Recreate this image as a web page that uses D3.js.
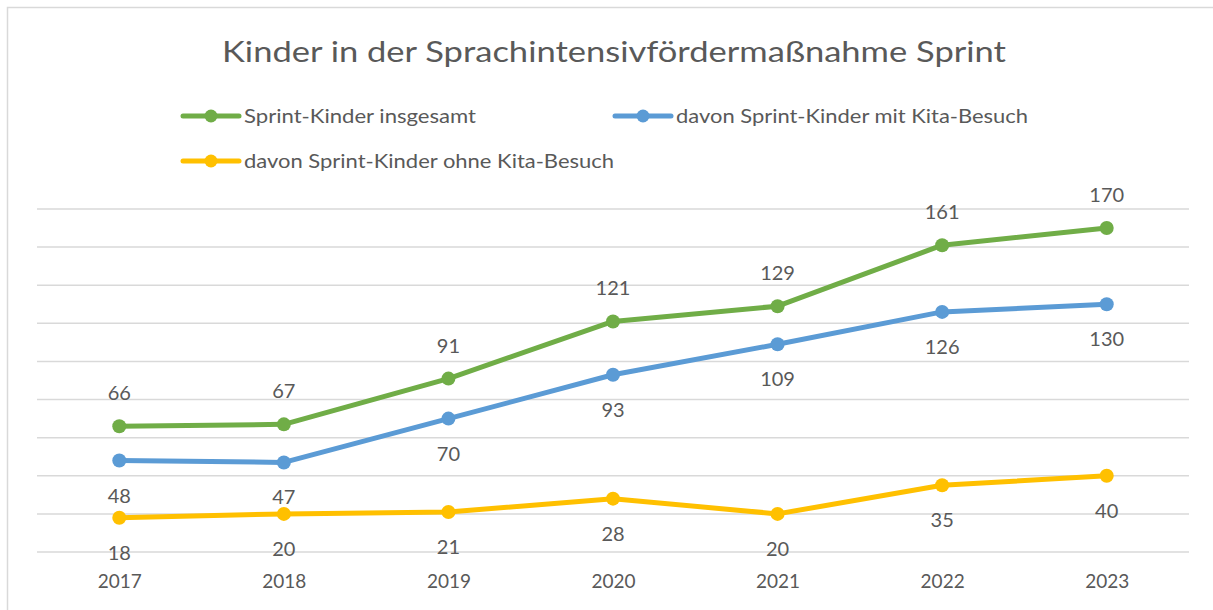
<!DOCTYPE html>
<html>
<head>
<meta charset="utf-8">
<script src="https://cdn.jsdelivr.net/npm/d3@7"></script>
<style>
  body { margin: 0; background: #fff; }
  text { font-family: Lato, "Open Sans", sans-serif; fill: #595959; }
</style>
</head>
<body>
<div id="chart"></div>
<script>
// data
const years = ["2017", "2018", "2019", "2020", "2021", "2022", "2023"];
const gesamt = [66, 67, 91, 121, 129, 161, 170];
const mitKita = [48, 47, 70, 93, 109, 126, 130];
const ohneKita = [18, 20, 21, 28, 20, 35, 40];
const seriesNames = ["Sprint-Kinder insgesamt", "davon Sprint-Kinder mit Kita-Besuch", "davon Sprint-Kinder ohne Kita-Besuch"];
const yTicks = [0, 20, 40, 60, 80, 100, 120, 140, 160, 180];

const W = 1213, H = 610;
const margin = {top: 209, right: 24, bottom: 58, left: 37};
const width = W - margin.left - margin.right,
      height = H - margin.top - margin.bottom;

const series = [
  {name: seriesNames[0], values: gesamt, color: "#70AD47", pos: "above"},
  {name: seriesNames[1], values: mitKita, color: "#5B9BD5", pos: "below"},
  {name: seriesNames[2], values: ohneKita, color: "#FFC000", pos: "below"}
];

const svg = d3.select("#chart").append("svg")
  .attr("width", W).attr("height", H);

// outer chart frame
svg.append("rect")
  .attr("x", 7.5).attr("y", 7.5)
  .attr("width", W + 20).attr("height", H + 20)
  .attr("fill", "none").attr("stroke", "#d9d9d9").attr("stroke-width", 1.5);

svg.append("text")
  .attr("x", 614).attr("y", 62)
  .attr("text-anchor", "middle")
  .attr("textLength", 784).attr("lengthAdjust", "spacingAndGlyphs")
  .style("font-size", "28px")
  .text("Kinder in der Sprachintensivfördermaßnahme  Sprint");

const g = svg.append("g")
  .attr("transform", "translate(" + margin.left + "," + margin.top + ")");

const x = d3.scalePoint().domain(years).range([0, width]).padding(0.5);
const y = d3.scaleLinear().domain([0, 180]).range([height, 0]);

// gridlines
g.append("g").selectAll("line")
  .data(yTicks)
  .join("line")
    .attr("x1", 0).attr("x2", width)
    .attr("y1", d => y(d)).attr("y2", d => y(d))
    .attr("stroke", "#d9d9d9").attr("stroke-width", 1.5);

// x axis labels
const xAxis = g.append("g")
  .attr("transform", "translate(0," + height + ")")
  .call(d3.axisBottom(x).tickSize(0).tickPadding(23));
xAxis.select(".domain").remove();
xAxis.selectAll("text")
  .style("font-size", "19px")
  .style("font-family", "Lato, sans-serif")
  .attr("fill", "#595959");

const line = d3.line()
  .x((d, i) => x(years[i]))
  .y(d => y(d));

series.forEach(s => {
  g.append("path")
    .datum(s.values)
    .attr("d", line)
    .attr("fill", "none")
    .attr("stroke", s.color)
    .attr("stroke-width", 5)
    .attr("stroke-linejoin", "round");

  g.selectAll(null)
    .data(s.values)
    .join("circle")
      .attr("cx", (d, i) => x(years[i]))
      .attr("cy", d => y(d))
      .attr("r", 7)
      .attr("fill", s.color);

  g.selectAll(null)
    .data(s.values)
    .join("text")
      .attr("x", (d, i) => x(years[i]))
      .attr("y", d => s.pos === "above" ? y(d) - 26 : y(d) + 42)
      .attr("text-anchor", "middle")
      .style("font-size", "20px")
      .attr("fill", "#404040")
      .text(d => d);
});

// legend
const legendPos = [{x: 183, y: 116}, {x: 615, y: 116}, {x: 183, y: 161}];
const legendLen = [232, 352, 370];
const legend = svg.append("g");
series.forEach((s, i) => {
  const p = legendPos[i];
  legend.append("line")
    .attr("x1", p.x).attr("x2", p.x + 56)
    .attr("y1", p.y).attr("y2", p.y)
    .attr("stroke", s.color).attr("stroke-width", 5)
    .attr("stroke-linecap", "round");
  legend.append("circle")
    .attr("cx", p.x + 28).attr("cy", p.y).attr("r", 6.5)
    .attr("fill", s.color);
  legend.append("text")
    .attr("x", p.x + 61).attr("y", p.y + 7)
    .attr("textLength", legendLen[i]).attr("lengthAdjust", "spacingAndGlyphs")
    .style("font-size", "20px")
    .text(s.name);
});
</script>
</body>
</html>
